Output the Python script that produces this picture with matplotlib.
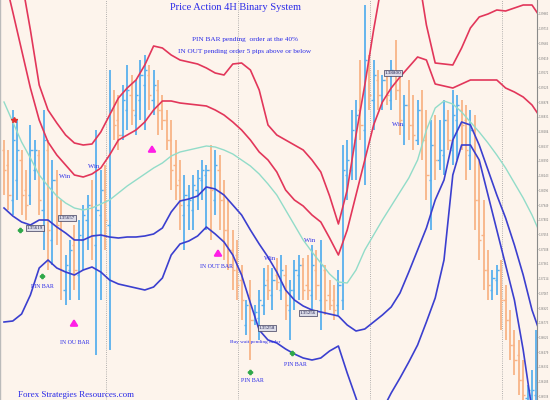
import matplotlib
matplotlib.use('Agg')
import matplotlib.pyplot as plt
import numpy as np

# ---------------- data (prices) ----------------
opens = [1.3850,1.3835,1.3800,1.3820,1.3840,1.3810,1.3805,1.3830,1.3845,1.3790,
         1.3850,1.3760,1.3820,1.3780,1.3710,1.3730,1.3755,1.3725,1.3760,1.3780,
         1.3795,1.3755,1.3785,1.3810,1.3775,1.3890,1.3880,1.3865,1.3890,1.3905,
         1.3885,1.3900,1.3915,1.3925,1.3900,1.3910,1.3890,1.3880,1.3860,1.3835,
         1.3820,1.3785,1.3795,1.3790,1.3810,1.3820,1.3825,1.3830,1.3800,1.3830,
         1.3800,1.3770,1.3750,1.3745,1.3720,1.3675,1.3705,1.3680,1.3682,1.3695,
         1.3720,1.3705,1.3725,1.3710,1.3725,1.3690,1.3710,1.3725,1.3735,1.3715,
         1.3705,1.3730,1.3700,1.3730,1.3705,1.3700,1.3695,1.3700,1.3825,1.3830,
         1.3860,1.3890,1.3870,1.3930,1.3900,1.3920,1.3905,1.3920,1.3900,1.3925,
         1.3910,1.3875,1.3895,1.3875,1.3860,1.3890,1.3860,1.3820,1.3855,1.3840,
         1.3845,1.3880,1.3850,1.3880,1.3890,1.3880,1.3845,1.3870,1.3800,1.3765,
         1.3730,1.3710,1.3720,1.3730,1.3700,1.3680,1.3655,1.3645,1.3620,1.3602,
         1.3605,1.3605]
highs = [1.3860,1.3850,1.3890,1.3880,1.3850,1.3830,1.3875,1.3860,1.3850,1.3890,
         1.3860,1.3840,1.3830,1.3800,1.3745,1.3760,1.3775,1.3780,1.3795,1.3805,
         1.3820,1.3870,1.3830,1.3835,1.3930,1.3910,1.3905,1.3915,1.3935,1.3925,
         1.3920,1.3940,1.3945,1.3935,1.3930,1.3920,1.3905,1.3890,1.3880,1.3860,
         1.3840,1.3825,1.3815,1.3825,1.3830,1.3840,1.3835,1.3855,1.3850,1.3845,
         1.3820,1.3800,1.3770,1.3760,1.3735,1.3700,1.3720,1.3695,1.3710,1.3732,
         1.3735,1.3732,1.3742,1.3745,1.3735,1.3720,1.3740,1.3745,1.3742,1.3745,
         1.3755,1.3750,1.3760,1.3735,1.3720,1.3715,1.3730,1.3855,1.3860,1.3890,
         1.3900,1.3940,1.3995,1.3945,1.3940,1.3930,1.3925,1.3930,1.3940,1.3960,
         1.3925,1.3905,1.3920,1.3905,1.3900,1.3910,1.3890,1.3880,1.3885,1.3880,
         1.3900,1.3890,1.3910,1.3905,1.3900,1.3895,1.3890,1.3885,1.3840,1.3800,
         1.3750,1.3730,1.3735,1.3740,1.3715,1.3690,1.3670,1.3660,1.3640,1.3615,
         1.3630,1.3670]
lows = [1.3805,1.3790,1.3785,1.3800,1.3785,1.3780,1.3795,1.3820,1.3785,1.3750,
        1.3730,1.3735,1.3755,1.3700,1.3695,1.3700,1.3710,1.3700,1.3730,1.3750,
        1.3740,1.3645,1.3700,1.3750,1.3650,1.3860,1.3850,1.3860,1.3870,1.3875,
        1.3865,1.3880,1.3870,1.3890,1.3885,1.3865,1.3870,1.3850,1.3810,1.3800,
        1.3770,1.3750,1.3770,1.3770,1.3790,1.3800,1.3770,1.3760,1.3785,1.3770,
        1.3740,1.3730,1.3710,1.3700,1.3680,1.3665,1.3640,1.3675,1.3660,1.3685,
        1.3700,1.3690,1.3710,1.3700,1.3680,1.3660,1.3690,1.3700,1.3700,1.3700,
        1.3690,1.3700,1.3670,1.3685,1.3690,1.3680,1.3685,1.3690,1.3800,1.3820,
        1.3820,1.3860,1.3815,1.3890,1.3870,1.3890,1.3890,1.3895,1.3890,1.3900,
        1.3865,1.3855,1.3860,1.3850,1.3855,1.3840,1.3800,1.3770,1.3820,1.3830,
        1.3825,1.3850,1.3835,1.3840,1.3850,1.3820,1.3830,1.3770,1.3740,1.3710,
        1.3700,1.3700,1.3705,1.3670,1.3660,1.3640,1.3625,1.3605,1.3590,1.3595,
        1.3595,1.3590]
closes = [1.3830,1.3805,1.3860,1.3850,1.3805,1.3795,1.3850,1.3850,1.3800,1.3860,
          1.3770,1.3820,1.3775,1.3730,1.3735,1.3750,1.3730,1.3765,1.3785,1.3795,
          1.3765,1.3790,1.3810,1.3780,1.3890,1.3875,1.3865,1.3900,1.3910,1.3890,
          1.3905,1.3925,1.3930,1.3905,1.3915,1.3890,1.3880,1.3860,1.3830,1.3815,
          1.3795,1.3805,1.3800,1.3815,1.3822,1.3830,1.3830,1.3810,1.3835,1.3800,
          1.3770,1.3750,1.3730,1.3715,1.3700,1.3695,1.3680,1.3688,1.3700,1.3715,
          1.3710,1.3720,1.3718,1.3730,1.3695,1.3710,1.3730,1.3735,1.3710,1.3710,
          1.3735,1.3715,1.3735,1.3700,1.3695,1.3690,1.3715,1.3830,1.3840,1.3870,
          1.3885,1.3875,1.3940,1.3905,1.3925,1.3905,1.3920,1.3905,1.3930,1.3910,
          1.3880,1.3895,1.3875,1.3865,1.3890,1.3860,1.3825,1.3855,1.3840,1.3850,
          1.3880,1.3860,1.3885,1.3895,1.3875,1.3850,1.3870,1.3800,1.3760,1.3730,
          1.3715,1.3722,1.3730,1.3700,1.3680,1.3655,1.3640,1.3620,1.3605,1.3610,
          1.3610,1.3620]

# band lines, one value every 2 bars
upper_outer = [1.4120,1.4072,1.4020,1.3970,1.3915,1.3890,1.3877,1.3865,1.3857,1.3855,
               1.3856,1.3868,1.3885,1.3902,1.3912,1.3920,1.3935,1.3954,1.3952,1.3945,
               1.3940,1.3938,1.3936,1.3932,1.3927,1.3925,1.3936,1.3937,1.3930,1.3910,
               1.3875,1.3865,1.3860,1.3855,1.3850,1.3840,1.3828,1.3804,1.3776,1.3810,
               1.3865,1.3915,1.3970,1.4020,1.4080,1.4100,1.4080,1.4030,1.3975,1.3937,
               1.3936,1.3935,1.3952,1.3972,1.3983,1.3986,1.3990,1.3989,1.3992,1.3995,
               1.3995,1.3982]
upper_inner = [1.4025,1.3988,1.3950,1.3912,1.3880,1.3858,1.3845,1.3835,1.3825,1.3823,
               1.3826,1.3832,1.3845,1.3860,1.3865,1.3870,1.3878,1.3890,1.3899,1.3899,
               1.3897,1.3896,1.3895,1.3894,1.3890,1.3885,1.3878,1.3870,1.3860,1.3848,
               1.3840,1.3828,1.3810,1.3800,1.3794,1.3785,1.3778,1.3762,1.3745,1.3770,
               1.3805,1.3840,1.3875,1.3898,1.3912,1.3923,1.3933,1.3943,1.3940,1.3916,
               1.3914,1.3912,1.3916,1.3920,1.3920,1.3920,1.3920,1.3912,1.3908,1.3903,
               1.3895,1.3882]
middle = [1.3898,1.3878,1.3858,1.3842,1.3825,1.3814,1.3804,1.3797,1.3792,1.3790,
          1.3792,1.3796,1.3800,1.3807,1.3814,1.3820,1.3826,1.3832,1.3837,1.3844,
          1.3848,1.3850,1.3852,1.3854,1.3853,1.3850,1.3846,1.3840,1.3834,1.3826,
          1.3816,1.3805,1.3790,1.3775,1.3760,1.3748,1.3737,1.3726,1.3718,1.3717,
          1.3730,1.3750,1.3765,1.3780,1.3794,1.3808,1.3822,1.3840,1.3870,1.3892,
          1.3899,1.3896,1.3888,1.3878,1.3868,1.3857,1.3845,1.3832,1.3817,1.3802,
          1.3785,1.3765]
lower_inner = [1.3792,1.3784,1.3778,1.3775,1.3780,1.3780,1.3773,1.3767,1.3760,1.3760,
               1.3764,1.3765,1.3763,1.3762,1.3763,1.3763,1.3764,1.3766,1.3772,1.3788,
               1.3799,1.3801,1.3804,1.3813,1.3811,1.3805,1.3795,1.3785,1.3770,1.3756,
               1.3743,1.3728,1.3710,1.3700,1.3694,1.3690,1.3688,1.3686,1.3684,1.3675,
               1.3669,1.3671,1.3678,1.3685,1.3693,1.3707,1.3728,1.3750,1.3772,1.3800,
               1.3820,1.3860,1.3878,1.3875,1.3855,1.3830,1.3805,1.3782,1.3755,1.3725,
               1.3690,1.3665]
lower_outer = [1.3678,1.3679,1.3686,1.3705,1.3732,1.3740,1.3732,1.3728,1.3725,1.3730,
               1.3733,1.3728,1.3720,1.3716,1.3714,1.3712,1.3710,1.3713,1.3722,1.3745,
               1.3756,1.3759,1.3764,1.3773,1.3766,1.3758,1.3745,1.3725,1.3697,1.3670,
               1.3660,1.3657,1.3651,1.3646,1.3642,1.3640,1.3642,1.3649,1.3654,1.3627,
               1.3602,1.3575,1.3575,1.3590,1.3607,1.3622,1.3638,1.3655,1.3678,1.3702,
               1.3740,1.3825,1.3855,1.3855,1.3840,1.3805,1.3770,1.3735,1.3700,1.3650,
               1.3590,1.3550]
session_breaks = [23.2, 53.2, 83.2, 113.2]
price_ticks = [1.3986 - 0.00147 * k for k in range(27)]

# ---------------- figure ----------------
W, H = 550, 400
AX_RIGHT = 537
bg = '#fdf4ec'
fig = plt.figure(figsize=(W / 100, H / 100), dpi=100)
fig.patch.set_facecolor(bg)
ax = fig.add_axes([0, 0, AX_RIGHT / W, 1])
ax.set_facecolor(bg)
ax.set_xlim(-4 / 4.4, (AX_RIGHT - 4) / 4.4)
ax.set_ylim(1.3600, 1.4000)

for b in session_breaks:
    ax.axvline(b, color='#9a9a9a', ls=(0, (1, 1.6)), lw=0.6, zorder=1)

n = len(closes)
idx = np.arange(n)
o = np.array(opens); c = np.array(closes)
cols = np.where(c >= o, '#58b0ee', '#f8b487')
ax.vlines(idx, lows, highs, colors=cols, lw=1.3, zorder=2)
ax.hlines(o, idx - 0.5, idx, colors=cols, lw=1.0, zorder=2)
ax.hlines(c, idx, idx + 0.5, colors=cols, lw=1.0, zorder=2)

lx = np.arange(len(upper_outer)) * 2
ax.plot(lx, middle, color='#92dcc9', lw=1.0, zorder=3)
ax.plot(lx, upper_outer, color='#e2365a', lw=1.2, zorder=3)
ax.plot(lx, upper_inner, color='#e2365a', lw=1.2, zorder=3)
ax.plot(lx, lower_inner, color='#3b3fcf', lw=1.2, zorder=3)
ax.plot(lx, lower_outer, color='#3b3fcf', lw=1.2, zorder=3)

ax.yaxis.tick_right()
ax.set_yticks(price_ticks)
ax.set_yticklabels([f'{t:.5f}' for t in price_ticks])
ax.tick_params(axis='y', labelsize=1.8, colors='#777777', length=1.0, width=0.4, pad=0.3)
ax.set_xticks([])
for s in ['top', 'bottom']:
    ax.spines[s].set_visible(False)
ax.spines['right'].set_color('#8a8a8a'); ax.spines['right'].set_linewidth(0.8)
ax.spines['left'].set_color('#bbbbbb'); ax.spines['left'].set_linewidth(1.0)

serif = ['Liberation Serif', 'DejaVu Serif']
blue_txt = '#2a2ae8'

def ftext(px, py, s, size=5, color=blue_txt, ha='center', va='center', **kw):
    fig.text(px / W, 1 - py / H, s, fontsize=size, color=color, ha=ha, va=va,
             family=serif, **kw)

ftext(235, 7, 'Price Action 4H Binary System', size=7.5)
ftext(245, 40, 'PIN BAR pending  order at the 40%', size=5.2)
ftext(245, 52, 'IN OUT pending order 5 pips above or below', size=5.2)
for (px, py) in [(65, 177), (94, 166), (270, 258), (310, 240), (398, 125)]:
    ftext(px, py, 'Win', size=4.8)
ftext(42, 287, 'PIN BAR', size=4.2)
ftext(75, 342, 'IN OU BAR', size=4.2)
ftext(217, 267, 'IN OUT BAR', size=4.2)
ftext(252, 381, 'PIN BAR', size=4.2)
ftext(295, 365, 'PIN BAR', size=4.2)
ftext(255, 342, 'Buy wait pending order', size=3.8)
ftext(18, 399, 'Forex Strategies Resources.com', size=6.5, ha='left', va='bottom')

box = dict(boxstyle='square,pad=0.2', fc='#dcdce8', ec='#3a3a5a', lw=0.5)
for (px, py, s) in [(35, 228, '1.35619'), (67, 218, '1.35657'), (393, 73, '1.38800'),
                    (267, 328, '1.35258'), (308, 313, '1.35256')]:
    fig.text(px / W, 1 - py / H, s, fontsize=3.6, color='#202050', ha='center',
             va='center', family=serif, bbox=box)

for (px, py) in [(152, 148), (218, 252), (74, 322)]:
    ax.annotate('', xy=(px, H - py + 6), xytext=(px, H - py - 6), xycoords='figure pixels',
                arrowprops=dict(arrowstyle='-|>,head_width=0.22,head_length=0.35',
                                color='#ff1ee6', lw=1.6))
for (px, py) in [(20, 230), (42, 276), (250, 372), (292, 353)]:
    fig.lines.append(plt.Line2D([px / W], [1 - py / H], marker='P', ms=3, color='#2fa84a',
                                transform=fig.transFigure))
fig.lines.append(plt.Line2D([14 / W], [1 - 120 / H], marker='*', ms=4, color='#e23030',
                            transform=fig.transFigure))

fig.savefig('out.png', dpi=100, facecolor=bg)
